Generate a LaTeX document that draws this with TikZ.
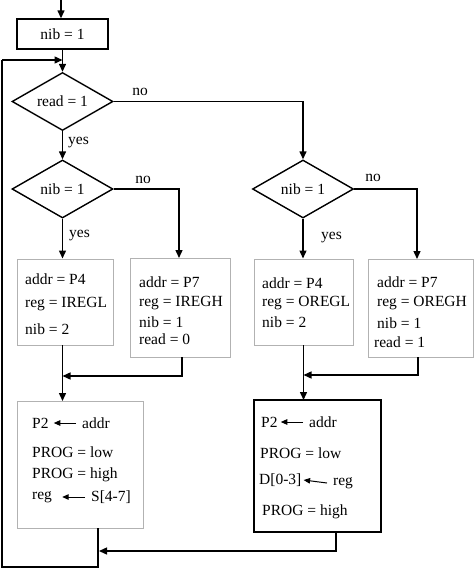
\documentclass[tikz,border=0pt]{standalone}
\usepackage{fontspec}
\setmainfont{Liberation Serif}
\usetikzlibrary{shapes.geometric,arrows.meta}
\begin{document}
\begin{tikzpicture}[x=1pt,y=-1pt,
  font=\fontsize{15.5}{18}\selectfont,
  line/.style={line width=1.4pt,black},
  arr/.style={line,-{Triangle[length=8pt,width=7pt]}},
  smallarr/.style={line width=1pt,-{Triangle[length=6.5pt,width=5.5pt]}},
  blackbox/.style={draw,line width=1.4pt,inner sep=0pt},
  graybox/.style={draw=black!30,line width=1pt,inner sep=0pt},
  decision/.style={diamond,draw,line width=1.4pt,aspect=1.76,inner sep=0pt,minimum width=101pt,minimum height=58pt},
  txt/.style={anchor=west,inner sep=0pt},
  lbl/.style={inner sep=0pt}]
\useasboundingbox (0,0) rectangle (474,570);

% top
\coordinate (top) at (61,0);
\node[blackbox,minimum width=91pt,minimum height=30pt] (init) at (62.5,34) {nib = 1};
\draw[arr] (top) -- (top |- init.north);

% decisions
\node[decision] (read) at (62.5,101.5) {read = 1};
\node[decision] (nibL) at (62.5,189) {nib = 1};
\node[decision] (nibR) at (303,189) {nib = 1};
\draw[arr] (init.south) -- (read.north);
\coordinate (loopin) at (62.5,60);

\node[lbl] (no1) at (140,92) {no};
\node[lbl,anchor=west] (yes1) at (68,143) {yes};
\node[lbl] (no2) at (143,180) {no};
\node[lbl,anchor=west] (yes2) at (69,236) {yes};
\node[lbl] (no3) at (373,178) {no};
\node[lbl,anchor=west] (yes3) at (321,238) {yes};

\draw[arr] (read.south) -- (nibL.north);
\draw[arr] (read.east) -- (303,101.5) -- (nibR.north);

% boxes row 1
\node[graybox,minimum width=96pt,minimum height=86pt] (b1) at (65,302) {};
\node[graybox,minimum width=100pt,minimum height=99pt] (b2) at (180,307.5) {};
\node[graybox,minimum width=99pt,minimum height=86pt] (b3) at (303.5,302) {};
\node[graybox,minimum width=105pt,minimum height=98pt] (b4) at (420.75,308) {};

\node[txt] at (25,279) {addr = P4};
\node[txt] at (25,304) {reg = IREGL};
\node[txt] at (25,329) {nib = 2};

\node[txt] at (139,282) {addr = P7};
\node[txt] at (139,303) {reg = IREGH};
\node[txt] at (139,322) {nib = 1};
\node[txt] at (139,339) {read = 0};

\node[txt] at (262,283) {addr = P4};
\node[txt] at (262,303) {reg = OREGL};
\node[txt] at (262,322) {nib = 2};

\node[txt] at (377,282) {addr = P7};
\node[txt] at (377,303) {reg = OREGH};
\node[txt] at (377,323) {nib = 1};
\node[txt] at (374,342) {read = 1};

\draw[arr] (nibL.south) -- (nibL.south |- b1.north);
\draw[arr] (nibL.east) -- (179,189) -- (179,258);
\draw[arr] (nibR.south) -- (nibR.south |- b3.north);
\draw[arr] (nibR.east) -- (417,189) -- (417,259);

% boxes row 2
\node[graybox,minimum width=126pt,minimum height=127pt] (b5) at (80,464.5) {};
\node[blackbox,minimum width=127pt,minimum height=132pt] (b6) at (317.5,466) {};

\draw[arr] (62.5,345) -- (62.5,401);
\draw[arr] (182,357) -- (182,376) -- (62.5,376);
\draw[arr] (303.5,345) -- (303.5,400);
\draw[arr] (418,357) -- (418,375) -- (303.5,375);

% box5 text
\node[txt] (p2a) at (32,423) {P2};
\node[txt] (addra) at (82,423) {addr};
\node[txt] at (32,452) {PROG = low};
\node[txt] at (32,475) {PROG = high};
\node[txt] (rega) at (32,497) {reg};
\node[txt] (sa) at (91,497) {S[4-7]};
\draw[smallarr] ([xshift=-6pt]sa.west) -- ([xshift=10pt]rega.east);
\draw[smallarr] ([xshift=-6pt]addra.west) -- ([xshift=5pt]p2a.east);

% box6 text
\node[txt] (p2b) at (261,422) {P2};
\node[txt] (addrb) at (309,422) {addr};
\draw[smallarr] ([xshift=-6pt]addrb.west) -- ([xshift=3pt]p2b.east);
\node[txt] at (260,453) {PROG = low};
\node[txt] (db) at (259,480) {D[0-3]};
\node[txt] (regb) at (333,483) {reg};
\draw[smallarr] ([xshift=-6pt]regb.west) -- ([xshift=2pt]db.east);
\node[txt] at (262,512) {PROG = high};

% loop back
\draw[line] (98,528) -- (98,567) -- (2,567) -- (2,60);
\draw[arr] (2,60) -- (loopin);
\draw[arr] (336,532) -- (336,551) -- (99,551);
\end{tikzpicture}
\end{document}
